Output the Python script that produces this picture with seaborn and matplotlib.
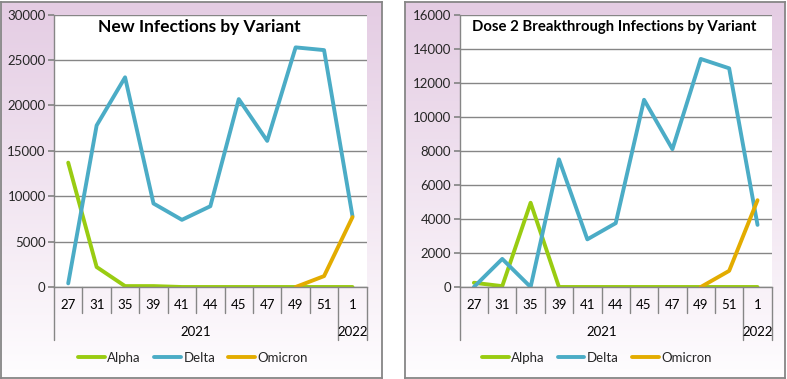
import numpy as np
import pandas as pd
import matplotlib
matplotlib.use("Agg")
import matplotlib.pyplot as plt
import matplotlib.transforms as mtransforms
import seaborn as sns

weeks = ["27", "31", "35", "39", "41", "44", "45", "47", "49", "51", "1"]
years = ["2021"] * 10 + ["2022"]
variants = ["Alpha", "Delta", "Omicron"]
colors = ["#99CC11", "#4BACC6", "#E3AC00"]

new_alpha = [13700, 2200, 100, 100, 0, 0, 0, 0, 0, 0, 0]
new_delta = [400, 17800, 23100, 9200, 7400, 8900, 20700, 16100, 26400, 26100, 7800]
new_omicron = [np.nan] * 8 + [0, 1200, 7700]

dose2_alpha = [250, 50, 4950, 0, 0, 0, 0, 0, 0, 0, 0]
dose2_delta = [0, 1650, 0, 7500, 2800, 3750, 11000, 8100, 13400, 12850, 3650]
dose2_omicron = [np.nan] * 8 + [0, 950, 5100]


def long_frame(series):
    rows = []
    for name, vals in zip(variants, series):
        for i, v in enumerate(vals):
            rows.append({"pos": i, "variant": name, "value": v})
    return pd.DataFrame(rows)


sns.set_theme(style="white")
plt.rcParams["font.family"] = ["Lato", "DejaVu Sans"]

fig = plt.figure(figsize=(7.87, 3.79), dpi=100)
W, H = 787, 379
FS = 9.5

grad = np.linspace(0, 1, 256).reshape(-1, 1)
top = np.array([0.894, 0.800, 0.890])
bot = np.array([0.998, 0.992, 0.998])
img = top[None, None, :] * (1 - grad[:, :, None]) + bot[None, None, :] * grad[:, :, None]


def panel(x0, x1):
    bg = fig.add_axes([x0 / W, 1.5 / H, (x1 - x0) / W, 376 / H])
    bg.imshow(img, aspect="auto", extent=[0, 1, 0, 1])
    bg.set_xticks([])
    bg.set_yticks([])
    for s in bg.spines.values():
        s.set_color("#868686")
        s.set_linewidth(1.3)
    return bg


def chart(px0, px1, data, ymax, ystep, title, tsize, tx, lx):
    ax = fig.add_axes([px0 / W, (H - 287) / H, (px1 - px0) / W, 272.3 / H])
    ax.set_facecolor("white")
    df = long_frame(data)
    sns.lineplot(data=df, x="pos", y="value", hue="variant", hue_order=variants,
                 palette=colors, linewidth=2.8, legend=False, ax=ax)
    n = len(weeks)
    ax.set_xlim(-0.5, n - 0.5)
    ax.set_ylim(0, ymax)
    ax.set_yticks(np.arange(0, ymax + 1, ystep))
    ax.set_yticklabels([str(int(v)) for v in np.arange(0, ymax + 1, ystep)], fontsize=FS)
    ax.grid(axis="y", color="#868686", linewidth=1.0)
    ax.set_axisbelow(True)
    ax.set_xticks([])
    ax.set_xlabel("")
    ax.set_ylabel("")
    for s in ["top", "right"]:
        ax.spines[s].set_visible(False)
    for s in ["left", "bottom"]:
        ax.spines[s].set_color("#868686")
        ax.spines[s].set_linewidth(1.0)
    ax.tick_params(axis="y", left=True, length=4, color="#868686", pad=2)
    ax.tick_params(axis="x", bottom=False)

    trans = mtransforms.blended_transform_factory(ax.transData, ax.transAxes)
    ph = 272.3
    for i in range(n + 1):
        b = i - 0.5
        boundary = i == 0 or i == n or years[i] != years[i - 1]
        depth = 53 if boundary else 26
        ax.plot([b, b], [0, -depth / ph], transform=trans, color="#868686",
                lw=1.0, clip_on=False)
    for i, w in enumerate(weeks):
        ax.text(i, -18 / ph, w, transform=trans, ha="center", va="center",
                fontsize=FS, color="black")
    for y in dict.fromkeys(years):
        idx = [i for i, v in enumerate(years) if v == y]
        ax.text((idx[0] + idx[-1]) / 2, -45 / ph, y, transform=trans,
                ha="center", va="center", fontsize=FS, color="black")

    ax.text(tx, 0.955, title, transform=ax.transAxes, ha="center", va="center",
            fontsize=tsize, fontweight="bold", color="black")

    handles = ax.get_lines()[:3]
    ax.legend(handles, variants, loc="center", bbox_to_anchor=(lx, -71 / ph),
              ncol=3, frameon=False, fontsize=FS, handlelength=2.0,
              columnspacing=1.0, handletextpad=0.2)
    return ax


panel(0.5, 381.5)
panel(405, 785)
chart(54, 366.7, [new_alpha, new_delta, new_omicron], 30000, 5000,
      "New Infections by Variant", 12.5, 0.464, 0.445)
chart(459.7, 771.7, [dose2_alpha, dose2_delta, dose2_omicron], 16000, 2000,
      "Dose 2 Breakthrough Infections by Variant", 10.7, 0.495, 0.44)

fig.savefig("out.png", dpi=100)
